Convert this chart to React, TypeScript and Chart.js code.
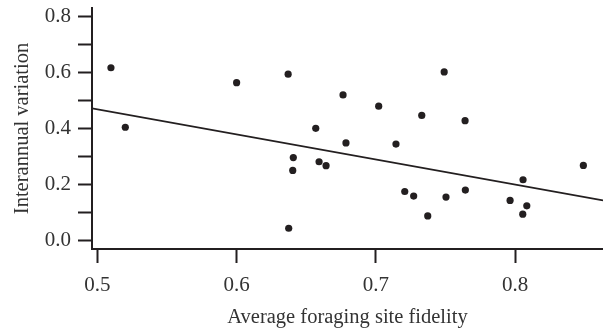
import React, { useEffect, useRef } from 'react';
import { Chart, registerables } from 'chart.js';
Chart.register(...registerables);

const fidelity = [
  0.5098, 0.5201, 0.6, 0.637, 0.6407, 0.6403, 0.6374, 0.749, 0.6764, 0.702,
  0.7329, 0.764, 0.6568, 0.6785, 0.7144, 0.6592, 0.6642, 0.8489, 0.7207, 0.7271,
  0.7503, 0.7642, 0.7372, 0.8056, 0.7963, 0.8083, 0.8054,
];
const variation = [
  0.616, 0.404, 0.563, 0.593, 0.296, 0.25, 0.044, 0.601, 0.519, 0.479,
  0.446, 0.4275, 0.4, 0.348, 0.344, 0.281, 0.267, 0.268, 0.175, 0.1585,
  0.155, 0.18, 0.088, 0.2168, 0.143, 0.124, 0.094,
];
const fitX = [0.4962, 0.863];
const fitY = [0.471, 0.143];

const INK = '#231f20';
const FONT = 'Liberation Serif';

export default function App() {
  const ref = useRef<HTMLCanvasElement | null>(null);
  useEffect(() => {
    if (!ref.current) return;
    const chart = new Chart(ref.current, {
      type: 'scatter',
      data: {
        datasets: [
          {
            data: fidelity.map((x, i) => ({ x, y: variation[i] })),
            backgroundColor: INK,
            borderColor: INK,
            pointRadius: 3.6,
            pointBorderWidth: 0,
            clip: false,
          } as any,
          {
            type: 'line',
            data: fitX.map((x, i) => ({ x, y: fitY[i] })),
            borderColor: INK,
            borderWidth: 1.8,
            pointRadius: 0,
            fill: false,
          } as any,
        ],
      },
      options: {
        animation: false,
        responsive: false,
        maintainAspectRatio: false,
        layout: { autoPadding: false, padding: { top: 8, right: 0, left: 0, bottom: 0 } },
        plugins: { legend: { display: false }, tooltip: { enabled: false } },
        scales: {
          x: {
            type: 'linear',
            min: 0.4962,
            max: 0.863,
            afterFit: (s: any) => { s.height = 80; s.paddingLeft = 0; s.paddingRight = 0; },
            border: { display: true, color: INK, width: 2 },
            grid: { drawOnChartArea: false, drawTicks: true, tickLength: 14, tickColor: INK, tickWidth: 2 },
            ticks: {
              stepSize: 0.1,
              includeBounds: false,
              autoSkip: false,
              maxRotation: 0,
              color: '#333',
              padding: 10,
              font: { family: FONT, size: 21 },
              callback: (v: any) => Number(v).toFixed(1),
            },
            title: {
              display: true,
              text: 'Average foraging site fidelity',
              color: '#333',
              font: { family: FONT, size: 20.5, lineHeight: 1.0 },
              padding: { top: 2, bottom: 1 },
            },
          },
          y: {
            type: 'linear',
            min: -0.03,
            max: 0.829,
            afterFit: (s: any) => { s.width = 92; s.paddingTop = 0; s.paddingBottom = 0; },
            border: { display: true, color: INK, width: 2 },
            grid: { drawOnChartArea: false, drawTicks: true, tickLength: 14, tickColor: INK, tickWidth: 2 },
            ticks: {
              stepSize: 0.1,
              includeBounds: false,
              autoSkip: false,
              color: '#333',
              padding: 7,
              font: { family: FONT, size: 21 },
              callback: (v: any) => (Math.round(Number(v) * 10) % 2 === 0 ? Number(v).toFixed(1) : ''),
            },
            title: {
              display: true,
              text: 'Interannual variation',
              color: '#333',
              font: { family: FONT, size: 20.5 },
              padding: { top: 10, bottom: 4 },
            },
          },
        },
      },
    });
    return () => chart.destroy();
  }, []);
  return (
    <div style={{ position: 'fixed', left: 0, top: 0, width: 603, height: 329, background: '#fff' }}>
      <canvas ref={ref} width={603} height={329} style={{ width: 603, height: 329, display: 'block' }} />
    </div>
  );
}
